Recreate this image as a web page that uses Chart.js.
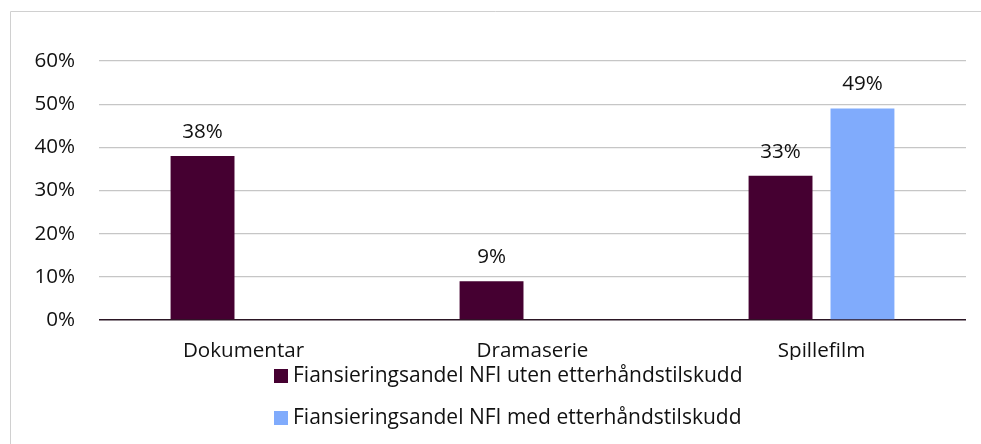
<!DOCTYPE html>
<html>
<head>
<meta charset="utf-8">
<script src="https://cdn.jsdelivr.net/npm/chart.js@4.4.0/dist/chart.umd.min.js"></script>
<style>
  html, body { margin: 0; padding: 0; background: #fff; }
  #wrap { position: relative; width: 981px; height: 444px; }
  canvas { display: block; }
</style>
</head>
<body>
<div id="wrap"><canvas id="c" width="981" height="444"></canvas></div>
<script>
const categories = ['Dokumentar', 'Dramaserie', 'Spillefilm'];
const seriesNames = ['Fiansieringsandel NFI uten etterhåndstilskudd', 'Fiansieringsandel NFI med etterhåndstilskudd'];
const utenValues = [38, 9, 33.4];
const medValues = [null, null, 49];
const yTicks = [0, 10, 20, 30, 40, 50, 60];

const FONT = "'Open Sans', 'Noto Sans', sans-serif";
const FSIZE = 20.6;
const LSIZE = 21;

const framePlugin = {
  id: 'frame',
  beforeDraw(chart) {
    const ctx = chart.ctx;
    ctx.save();
    ctx.strokeStyle = '#d0d0d0';
    ctx.lineWidth = 1;
    ctx.beginPath();
    ctx.moveTo(10.5, 444);
    ctx.lineTo(10.5, 11.5);
    ctx.lineTo(981, 11.5);
    ctx.stroke();
    ctx.restore();
  }
};

const labelPlugin = {
  id: 'barLabels',
  afterDatasetsDraw(chart) {
    const ctx = chart.ctx;
    ctx.save();
    ctx.font = FSIZE + 'px ' + FONT;
    ctx.fillStyle = '#111';
    ctx.textAlign = 'center';
    ctx.textBaseline = 'alphabetic';
    chart.data.datasets.forEach((ds, di) => {
      const meta = chart.getDatasetMeta(di);
      meta.data.forEach((el, i) => {
        const v = ds.data[i];
        if (v === null || v === undefined) return;
        ctx.fillText(Math.round(v) + '%', el.x, el.y - 18);
      });
    });
    ctx.restore();
  }
};

const legendPlugin = {
  id: 'stackLegend',
  afterDraw(chart) {
    const ctx = chart.ctx;
    ctx.save();
    ctx.font = LSIZE + 'px ' + FONT;
    ctx.textAlign = 'left';
    ctx.textBaseline = 'middle';
    const x0 = 274;
    const rows = [376, 418];
    chart.data.datasets.forEach((ds, di) => {
      const y = rows[di];
      ctx.fillStyle = ds.backgroundColor;
      ctx.fillRect(x0, y - 7, 14, 14);
      ctx.fillStyle = '#111';
      ctx.fillText(ds.label, x0 + 19, y);
    });
    ctx.restore();
  }
};

new Chart(document.getElementById('c'), {
  type: 'bar',
  data: {
    labels: categories,
    datasets: [
      { label: seriesNames[0], data: utenValues, backgroundColor: '#450031',
        categoryPercentage: 0.567, barPercentage: 0.78 },
      { label: seriesNames[1], data: medValues, backgroundColor: '#80abfc',
        categoryPercentage: 0.567, barPercentage: 0.78 }
    ]
  },
  options: {
    responsive: false,
    animation: false,
    layout: { padding: { left: 10, right: 15, top: 61, bottom: 84 } },
    plugins: {
      legend: { display: false },
      tooltip: { enabled: false }
    },
    scales: {
      x: {
        grid: { display: false, drawTicks: false },
        border: { display: false },
        ticks: { font: { family: FONT, size: FSIZE }, color: '#111', padding: 19 },
        afterFit(s) { s.height = 40; }
      },
      y: {
        min: 0, max: 60,
        afterBuildTicks(s) { s.ticks = yTicks.map(v => ({ value: v })); },
        grid: {
          drawTicks: false,
          color: c => c.tick && c.tick.value === 0 ? '#2b1624' : '#c6c6c6',
          lineWidth: c => c.tick && c.tick.value === 0 ? 1.6 : 1.3
        },
        border: { display: false },
        ticks: {
          font: { family: FONT, size: FSIZE }, color: '#111', padding: 24,
          callback: v => v + '%'
        },
        afterFit(s) { s.width = 89; }
      }
    }
  },
  plugins: [framePlugin, labelPlugin, legendPlugin]
});
</script>
</body>
</html>
